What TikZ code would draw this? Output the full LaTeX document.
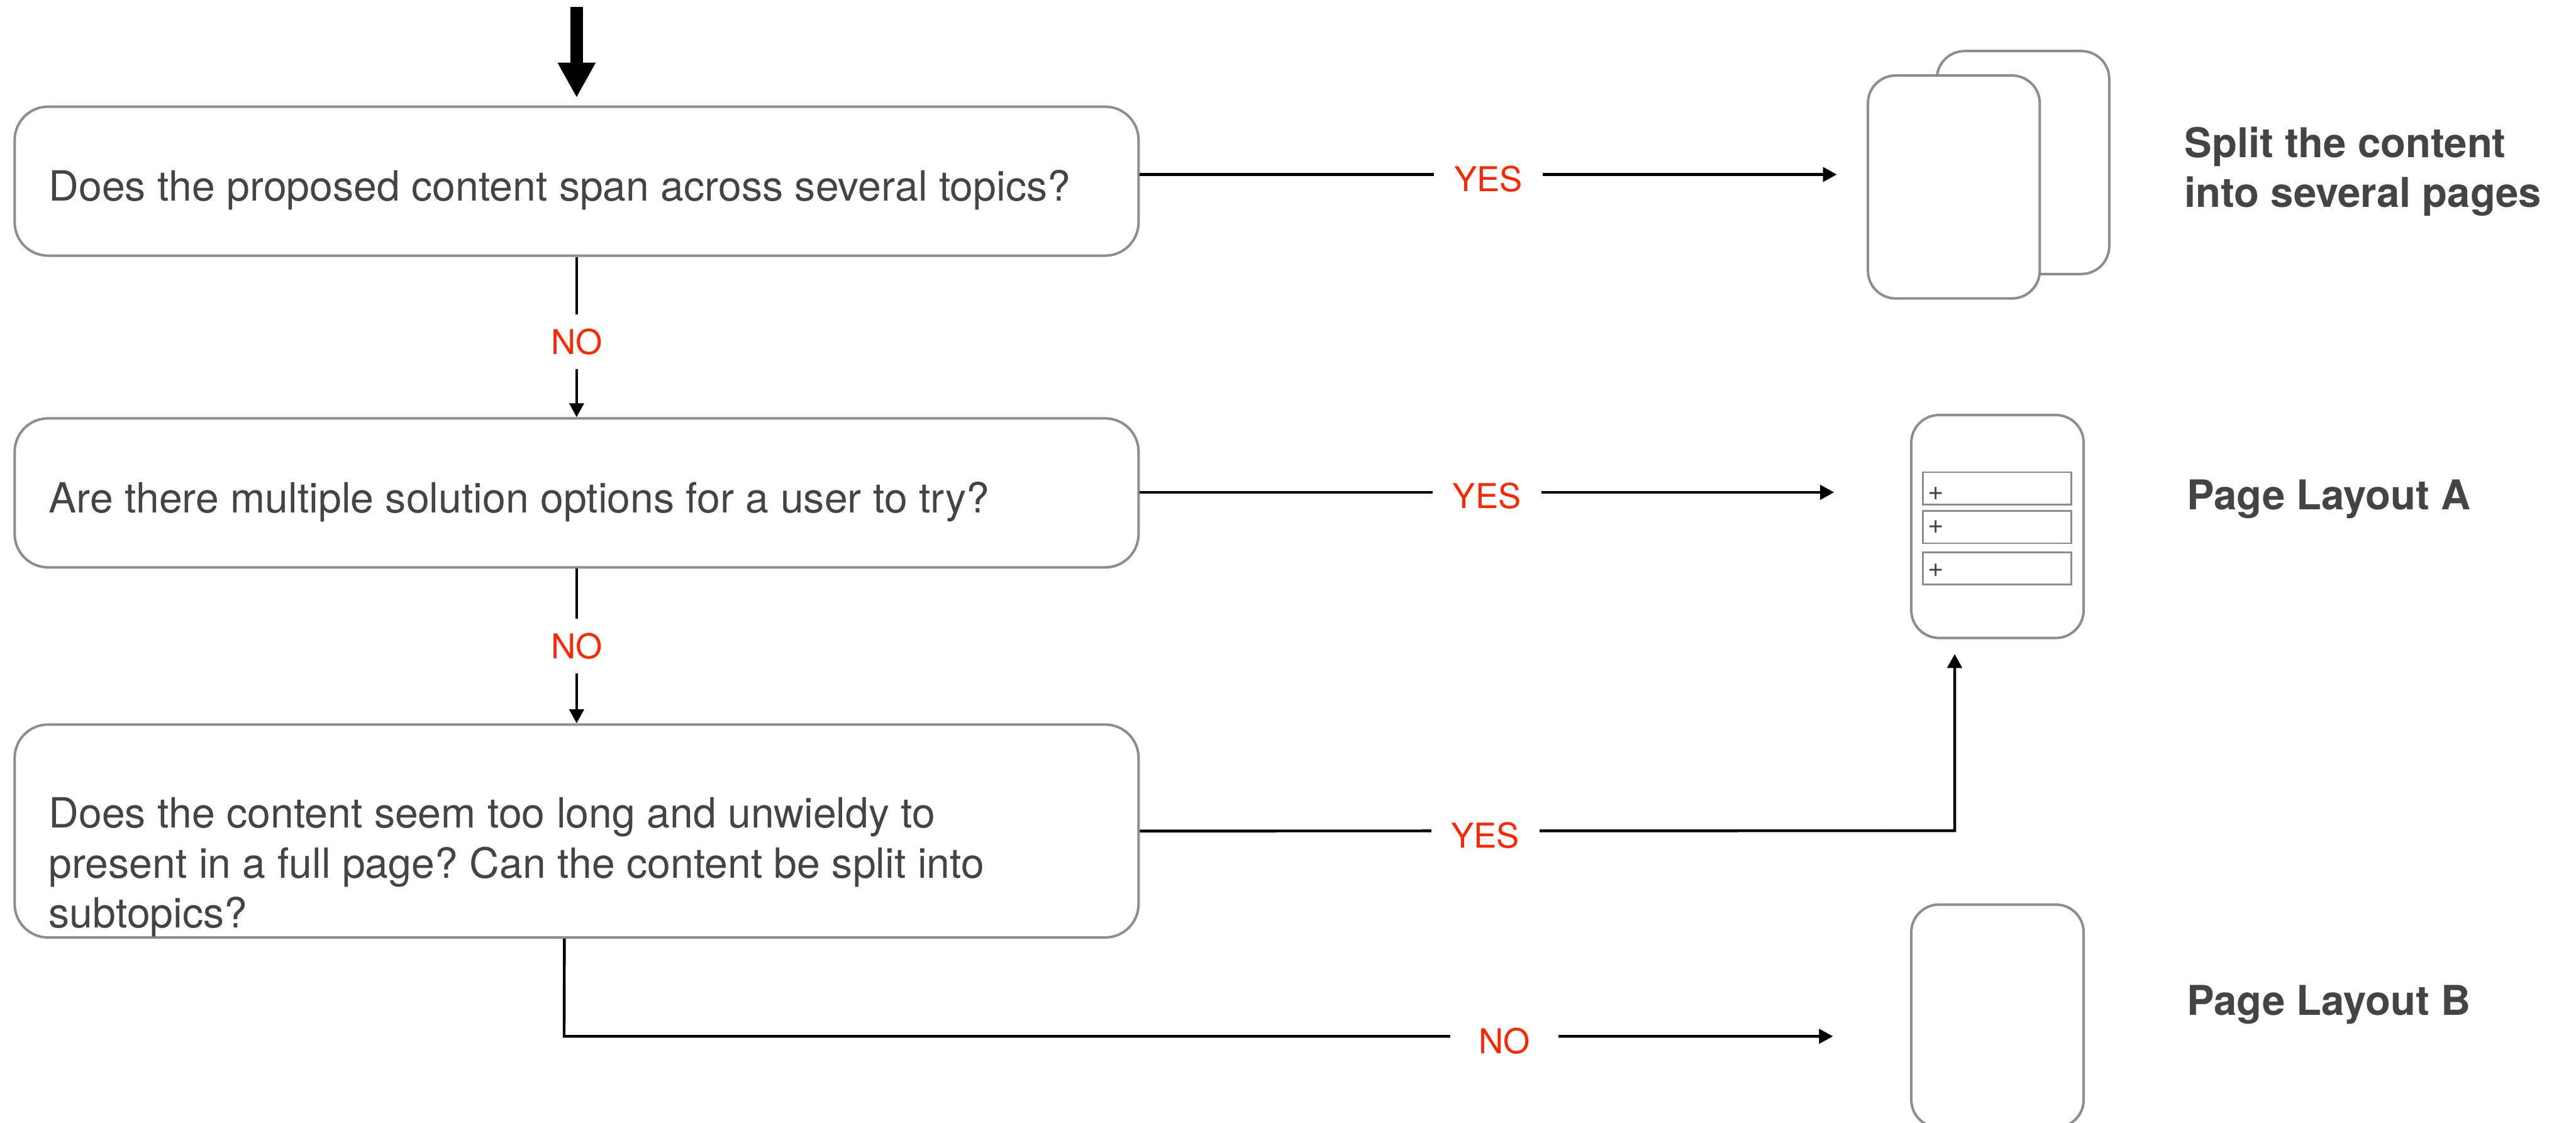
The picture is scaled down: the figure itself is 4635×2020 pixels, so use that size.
\documentclass[tikz,border=0pt]{standalone}
\usepackage{fontspec}
\setmainfont{TeX Gyre Heros}
\frenchspacing
\usetikzlibrary{arrows.meta}
\definecolor{textgray}{RGB}{68,68,68}
\definecolor{framegray}{RGB}{138,141,145}
\definecolor{answerred}{RGB}{255,38,0}

\tikzset{
  question/.style={draw=framegray, line width=0.045cm, rounded corners=0.6cm, minimum width=20.21cm, minimum height=2.68cm, inner sep=0pt},
  qtext/.style={text=textgray, inner sep=0pt, anchor=base west, align=left, font=\fontsize{21.3pt}{25.6pt}\selectfont},
  flow/.style={-{Triangle[length=0.25cm,width=0.26cm]}, line width=0.05cm},
  answer/.style={fill=white, text=answerred, minimum width=1.95cm, minimum height=0.99cm, inner sep=0pt, font=\fontsize{17.5pt}{21pt}\selectfont},
  page/.style={draw=framegray, fill=white, line width=0.045cm, rounded corners=0.5cm, minimum width=3.1cm, minimum height=4.01cm, inner sep=0pt},
  slot/.style={draw=framegray, line width=0.03cm, minimum width=2.67cm, minimum height=0.58cm, inner sep=0pt},
  plus/.style={text=textgray, inner sep=0pt, font=\fontsize{14pt}{16pt}\selectfont},
  result/.style={text=textgray, inner sep=0pt, anchor=base west, align=left, font=\fontsize{21pt}{25.6pt}\selectfont\bfseries},
}

\begin{document}
\begin{tikzpicture}[x=0.01cm, y=-0.01cm]
    \useasboundingbox (0,0) rectangle (4635,2020);

    % questions
    \node[question] (q1) at (1037.5,326) {};
    \node[question] (q2) at (1037.5,887) {};
    \node[question, minimum height=3.83cm] (q3) at (1037.5,1495.5) {};
    \node[qtext] (q1text) at (87,361) {Does the proposed content span across several topics?};
    \node[qtext] (q2text) at (87,923) {Are there multiple solution options for a user to try?};
    \node[qtext] (q3text) at (87,1670) {Does the content seem too long and unwieldy to\\present in a full page? Can the content be split into\\subtopics?};

    % outcomes
    \node[page] (backpage) at (3640,292.5) {};
    \node[page, minimum width=3.09cm] (frontpage) at (3515.5,336.5) {};
    \node[page] (layouta) at (3594,947.5) {};
    \node[page] (layoutb) at (3594,1828.5) {};
    \foreach \i/\yc/\yp in {1/879/888, 2/948.5/949, 3/1023/1027} {
        \node[slot] (slot\i) at (3593.5,\yc) {};
        \node[plus] (plus\i) at (3483,\yp) {+};
    }
    \node[result] (splittext) at (3930,373) {Split the content\\into several pages};
    \node[result] (layoutatext) at (3934,917) {Page Layout A};
    \node[result] (layoutbtext) at (3934,1827) {Page Layout B};

    % connectors
    \coordinate (entry) at (1037.5,13);
    \draw[line width=0.22cm, -{Triangle[length=0.63cm,width=0.64cm]}] (entry) -- ([yshift=0.14cm]q1.north);
    \draw[flow] (q1.south) -- node[answer, pos=0.53] (no1) {NO} (q2.north);
    \draw[flow] (q2.south) -- node[answer] (no2) {NO} (q3.north);

    \coordinate (yes1end) at (3305,314);
    \coordinate (yes2end) at (3300,886);
    \coordinate (yes3turn) at (3517,1495);
    \coordinate (yes3end) at (3517,1177);
    \coordinate (no3turn) at (1015,1865);
    \coordinate (no3end) at (3298,1865);
    \draw[flow] (q1.east |- yes1end) -- node[answer, yshift=-0.08cm] (yes1) {YES} (yes1end);
    \draw[flow] (q2.east |- yes2end) -- node[answer, yshift=-0.07cm] (yes2) {YES} (yes2end);
    \draw[flow] (q3.east) -- node[answer, pos=0.424, yshift=-0.08cm] (yes3) {YES} (yes3turn) -- (yes3end);
    \draw[flow] ([xshift=-0.22cm]q3.south) -- (no3turn) -- node[answer, pos=0.741, yshift=-0.08cm] (no3) {NO} (no3end);
\end{tikzpicture}
\end{document}
